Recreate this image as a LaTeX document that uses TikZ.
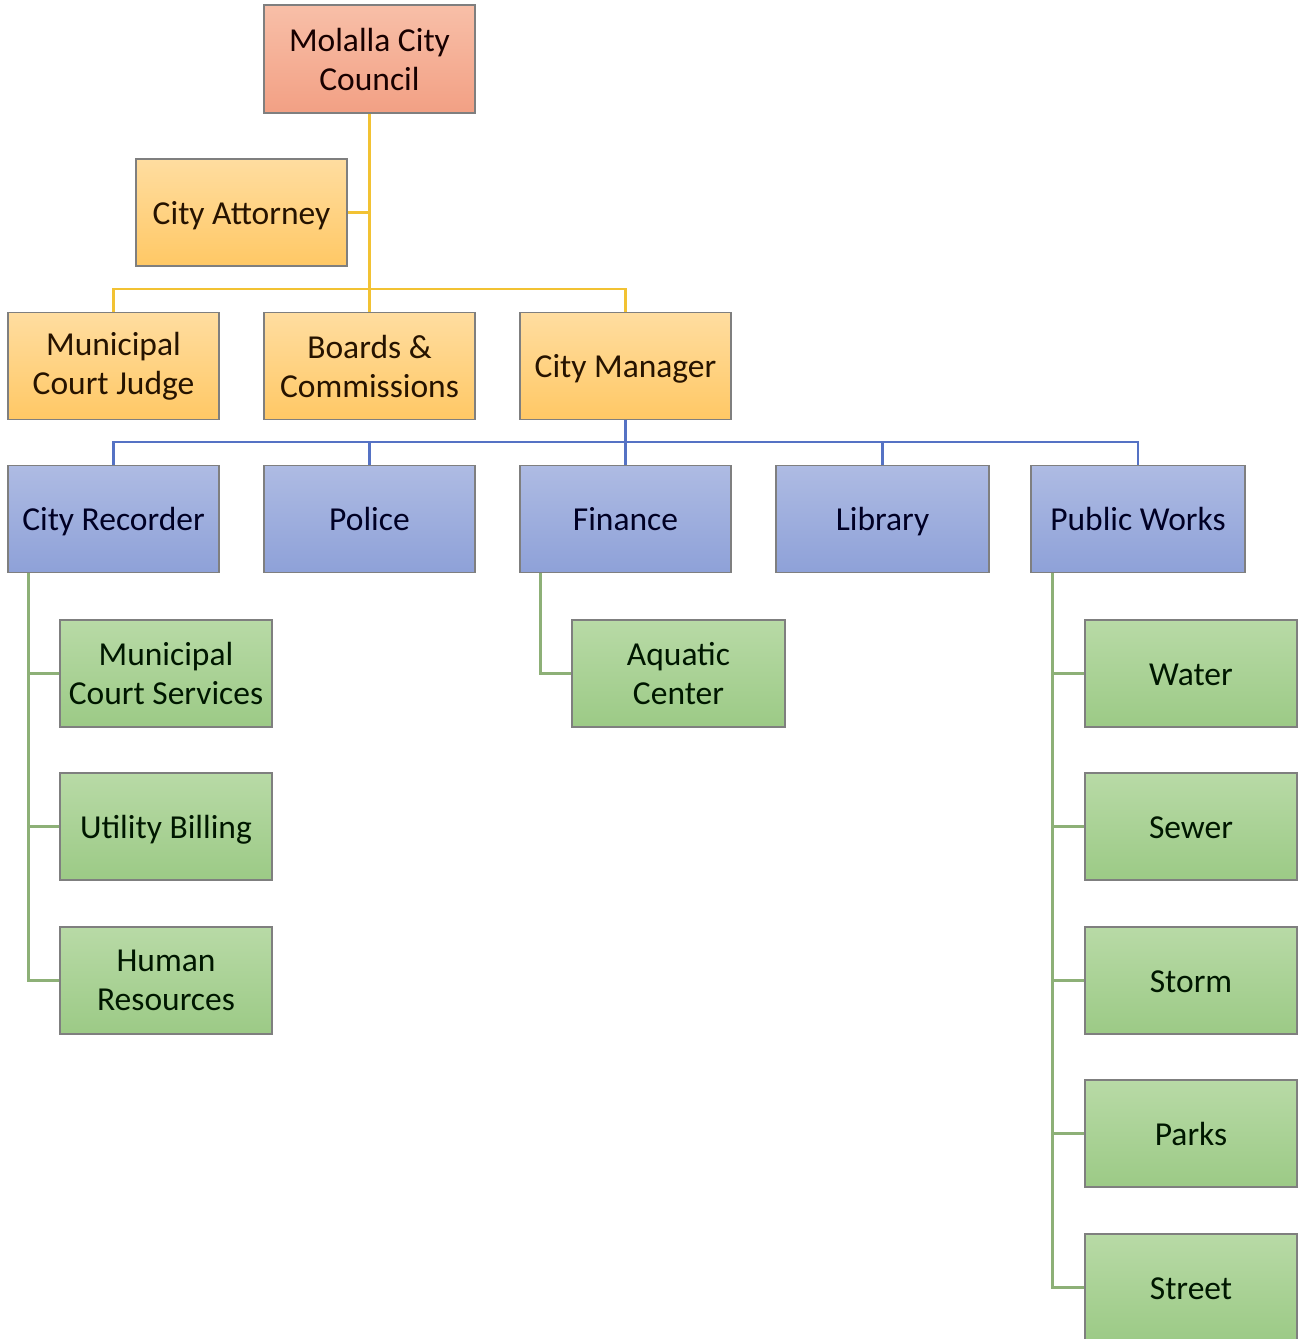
\documentclass[tikz,border=0pt]{standalone}
\usepackage{fontspec}
\setmainfont{Carlito}
\definecolor{redtop}{HTML}{F8BFA8}
\definecolor{redbot}{HTML}{F2A084}
\definecolor{yeltop}{HTML}{FFDDA0}
\definecolor{yelbot}{HTML}{FFC865}
\definecolor{blutop}{HTML}{AEBBE3}
\definecolor{blubot}{HTML}{8EA1D8}
\definecolor{grntop}{HTML}{B8DAA6}
\definecolor{grnbot}{HTML}{9CCA86}
\definecolor{boxline}{HTML}{7F7F7F}
\definecolor{yelline}{HTML}{F2C233}
\definecolor{bluline}{HTML}{5572C4}
\definecolor{grnline}{HTML}{8DB077}
\tikzset{
  orgbox/.style={rectangle, draw=boxline, line width=1.5pt, minimum width=211pt, minimum height=107pt,
    inner sep=2pt, align=center, font=\fontsize{33.5}{39}\selectfont},
  oneline/.style={text height=23pt, text depth=0pt},
  redbox/.style={orgbox, top color=redtop, bottom color=redbot, text=black!85!red!60!black},
  yelbox/.style={orgbox, top color=yeltop, bottom color=yelbot, text=black!85!orange},
  blubox/.style={orgbox, top color=blutop, bottom color=blubot, text=black!80!blue!70!black},
  grnbox/.style={orgbox, top color=grntop, bottom color=grnbot, text=black!85!green!60!black},
  yconn/.style={draw=yelline, line width=2.5pt},
  bconn/.style={draw=bluline, line width=2.5pt},
  gconn/.style={draw=grnline, line width=2.5pt},
}
\begin{document}
\begin{tikzpicture}[x=1pt,y=-1pt]
\useasboundingbox (0,0) rectangle (1300,1339);
\clip (0,0) rectangle (1300,1339);
\fill[white] (0,0) rectangle (1300,1339);
% top level
\node[redbox, minimum height=108pt] (council) at (369.5,59) {Molalla City\\Council};
\node[yelbox, oneline] (attorney) at (241.5,212.5) {City Attorney};
\node[yelbox] (judge) at (113.5,366) {Municipal\\Court Judge};
\node[yelbox] (boards) at (369.5,366) {Boards \&\\Commissions};
\node[yelbox, oneline] (manager) at (625.5,366) {City Manager};
% departments
\node[blubox, oneline] (recorder) at (113.5,519) {City Recorder};
\node[blubox, oneline] (police) at (369.5,519) {Police};
\node[blubox, oneline] (finance) at (625.5,519) {Finance};
\node[blubox, oneline, minimum width=213pt] (library) at (882.5,519) {Library};
\node[blubox, oneline, minimum width=214pt] (pw) at (1138,519) {Public Works};
% sub units
\node[grnbox, minimum width=212pt] (mcs) at (166,673.5) {Municipal\\Court Services};
\node[grnbox, oneline, minimum width=212pt] (ub) at (166,826.5) {Utility Billing};
\node[grnbox, minimum width=212pt] (hr) at (166,980.5) {Human\\Resources};
\node[grnbox, minimum width=213pt] (aquatic) at (678.5,673.5) {Aquatic\\Center};
\node[grnbox, oneline, minimum width=212pt] (water) at (1191,673.5) {Water};
\node[grnbox, oneline, minimum width=212pt] (sewer) at (1191,826.5) {Sewer};
\node[grnbox, oneline, minimum width=212pt] (storm) at (1191,980.5) {Storm};
\node[grnbox, oneline, minimum width=212pt] (parks) at (1191,1133.5) {Parks};
\node[grnbox, oneline, minimum width=212pt] (street) at (1191,1287.5) {Street};
% coordinates
\coordinate (yb) at (369.5,289);
\coordinate (bb) at (625.5,442);
\coordinate (rtop) at ([xshift=21pt]recorder.south west);
\coordinate (ftop) at ([xshift=21pt]finance.south west);
\coordinate (ptop) at ([xshift=22pt]pw.south west);
% yellow connectors
\draw[yconn] (council.south) -- (boards.north);
\draw[yconn] (attorney.east) -- (attorney.east -| council.south);
\draw[yconn] (judge.north) |- (yb) -| (manager.north);
% blue connectors
\draw[bconn] (manager.south) -- (finance.north);
\draw[bconn] (recorder.north) |- (bb) -| (pw.north);
\draw[bconn] (police.north) -- (police.north |- bb);
\draw[bconn] (library.north) -- (library.north |- bb);
% green connectors
\draw[gconn] (rtop) |- (mcs.west);
\draw[gconn] (rtop) |- (ub.west);
\draw[gconn] (rtop) |- (hr.west);
\draw[gconn] (ftop) |- (aquatic.west);
\draw[gconn] (ptop) |- (water.west);
\draw[gconn] (ptop) |- (sewer.west);
\draw[gconn] (ptop) |- (storm.west);
\draw[gconn] (ptop) |- (parks.west);
\draw[gconn] (ptop) |- (street.west);
\end{tikzpicture}
\end{document}
